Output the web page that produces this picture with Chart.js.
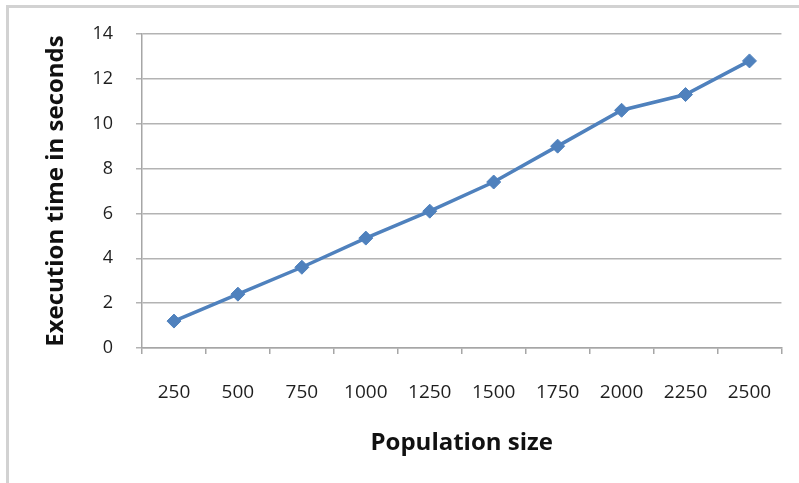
<!DOCTYPE html>
<html>
<head>
<meta charset="utf-8">
<script src="https://cdn.jsdelivr.net/npm/chart.js@4"></script>
<style>
  html, body { margin: 0; padding: 0; background: #fff; }
  #wrap { position: relative; width: 799px; height: 483px; overflow: hidden; }
  #frame { position: absolute; left: 6px; top: 5px; width: 900px; height: 900px;
           border-left: 3px solid #d2d2d2; border-top: 3px solid #d2d2d2; }
  canvas { position: absolute; left: 0; top: 0; }
</style>
</head>
<body>
<div id="wrap">
  <div id="frame"></div>
  <canvas id="c" width="799" height="483"></canvas>
</div>
<script>
const categories = ["250", "500", "750", "1000", "1250", "1500", "1750", "2000", "2250", "2500"];
const executionTime = [1.2, 2.4, 3.6, 4.9, 6.1, 7.4, 9.0, 10.6, 11.3, 12.8];
const yTicks = [0, 2, 4, 6, 8, 10, 12, 14];
const xTitle = "Population size";
const yTitle = "Execution time in seconds";

const FONT = "'Open Sans', 'DejaVu Sans', sans-serif";
const AREA = { left: 142, right: 783, top: 34, bottom: 348 };

new Chart(document.getElementById('c'), {
  type: 'line',
  data: {
    labels: categories,
    datasets: [{
      data: executionTime,
      borderColor: '#4F81BD',
      backgroundColor: '#4F81BD',
      borderWidth: 3.5,
      pointStyle: 'rectRot',
      pointRadius: 7,
      pointBorderWidth: 1,
      tension: 0
    }]
  },
  options: {
    responsive: false,
    animation: false,
    devicePixelRatio: 1,
    layout: { padding: { left: 30, right: 799 - AREA.right, top: AREA.top, bottom: 18 } },
    plugins: { legend: { display: false }, tooltip: { enabled: false } },
    scales: {
      x: {
        type: 'category',
        offset: true,
        grid: { offset: true, drawOnChartArea: false, drawTicks: true, tickLength: 6, color: '#a6a6a6', lineWidth: 1.5 },
        border: { color: '#a6a6a6', width: 1.5 },
        ticks: { color: '#1e1e1e', font: { family: FONT, size: 19 }, padding: 27, maxRotation: 0, autoSkip: false },
        title: { display: true, text: xTitle, color: '#111', font: { family: FONT, size: 24, weight: 'bold' }, padding: { top: 0, bottom: 7 } },
        afterFit(s) { s.height = 483 - AREA.bottom - 18; }
      },
      y: {
        min: 0, max: 14,
        afterBuildTicks(s) { s.ticks = yTicks.map(v => ({ value: v })); },
        grid: { color: '#b3b3b3', lineWidth: 1.5, drawTicks: true, tickLength: 6 },
        border: { color: '#a6a6a6', width: 1.5 },
        ticks: { color: '#1e1e1e', font: { family: FONT, size: 18 }, padding: 23 },
        title: { display: true, text: yTitle, color: '#111', font: { family: FONT, size: 24, weight: 'bold' }, padding: { top: 12, bottom: 0 } },
        afterFit(s) { s.width = AREA.left - 30; }
      }
    }
  }
});
</script>
</body>
</html>
